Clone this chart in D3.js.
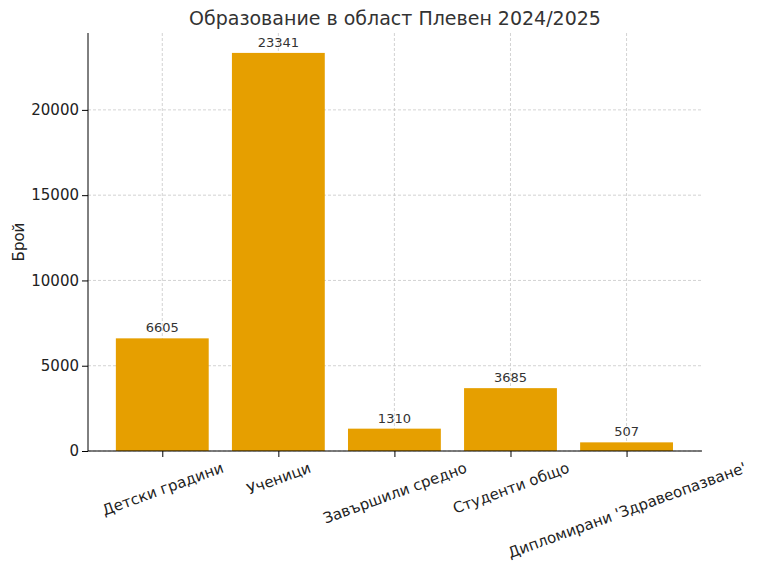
<!DOCTYPE html>
<html><head><meta charset="utf-8">
<script src="https://cdn.jsdelivr.net/npm/d3@7"></script>
<style>body{margin:0;background:#fff}text{font-family:"DejaVu Sans",sans-serif}</style>
</head><body><svg id="chart" width="768" height="574"></svg>
<script>
const categories = ["Детски градини", "Ученици", "Завършили средно", "Студенти общо", "Дипломирани 'Здравеопазване'"];
const values = [6605, 23341, 1310, 3685, 507];
const yTicks = [0, 5000, 10000, 15000, 20000];

const svg = d3.select("#chart");
const mLeft = 88, mRight = 702, mTop = 33, mBottom = 451;
const x = d3.scaleLinear().domain([-0.64, 4.65]).range([mLeft, mRight]);
const y = d3.scaleLinear().domain([0, 23341 * 1.05]).range([mBottom, mTop]);
const bw = x(0.8) - x(0);

// grid
svg.append("g").selectAll("line").data(yTicks).join("line")
  .attr("x1", mLeft).attr("x2", mRight).attr("y1", d => y(d)).attr("y2", d => y(d))
  .attr("stroke", "#c8c8c8").attr("stroke-dasharray", "3,2").attr("stroke-width", 0.8);
svg.append("g").selectAll("line").data(categories).join("line")
  .attr("x1", (d, i) => x(i)).attr("x2", (d, i) => x(i)).attr("y1", mTop).attr("y2", mBottom)
  .attr("stroke", "#c8c8c8").attr("stroke-dasharray", "3,2").attr("stroke-width", 0.8);

svg.append("g").selectAll("rect").data(values).join("rect")
  .attr("x", (d, i) => x(i) - bw / 2).attr("width", bw)
  .attr("y", d => y(d)).attr("height", d => mBottom - y(d))
  .attr("fill", "#E69F00");

svg.append("g").selectAll("text").data(values).join("text")
  .attr("x", (d, i) => x(i)).attr("y", d => y(d) - 6)
  .attr("text-anchor", "middle").attr("font-size", 13).attr("fill", "#333")
  .text(d => d);

// axes
svg.append("g").attr("transform", `translate(${mLeft},0)`)
  .call(d3.axisLeft(y).tickValues(yTicks).tickFormat(d3.format("d")).tickSizeOuter(0))
  .call(g => g.select(".domain").attr("d", `M0,${mTop}V${mBottom}`))
  .call(g => g.selectAll("text").attr("font-size", 15).attr("fill", "#222"));
const xa = svg.append("g").attr("transform", `translate(0,${mBottom})`)
  .call(d3.axisBottom(x).tickValues(d3.range(categories.length)).tickFormat(i => categories[i]).tickSizeOuter(0));
xa.select(".domain").attr("d", `M${mLeft},0H${mRight}`);
xa.selectAll(".tick text").attr("font-size", 15).attr("fill", "#222")
  .attr("text-anchor", "middle").attr("y", 0).attr("dy", "0.35em")
  .attr("transform", function() {
    const w = this.getComputedTextLength();
    const cy = 8 + (w * 0.342 + 17 * 0.94) / 2;
    return `translate(0,${cy})rotate(-20)`;
  });

svg.append("text").attr("x", 395).attr("y", 25).attr("text-anchor", "middle")
  .attr("font-size", 19).attr("fill", "#333").text("Образование в област Плевен 2024/2025");
svg.append("text").attr("transform", "translate(24,242)rotate(-90)").attr("text-anchor", "middle")
  .attr("font-size", 15).attr("fill", "#222").text("Брой");
</script></body></html>
